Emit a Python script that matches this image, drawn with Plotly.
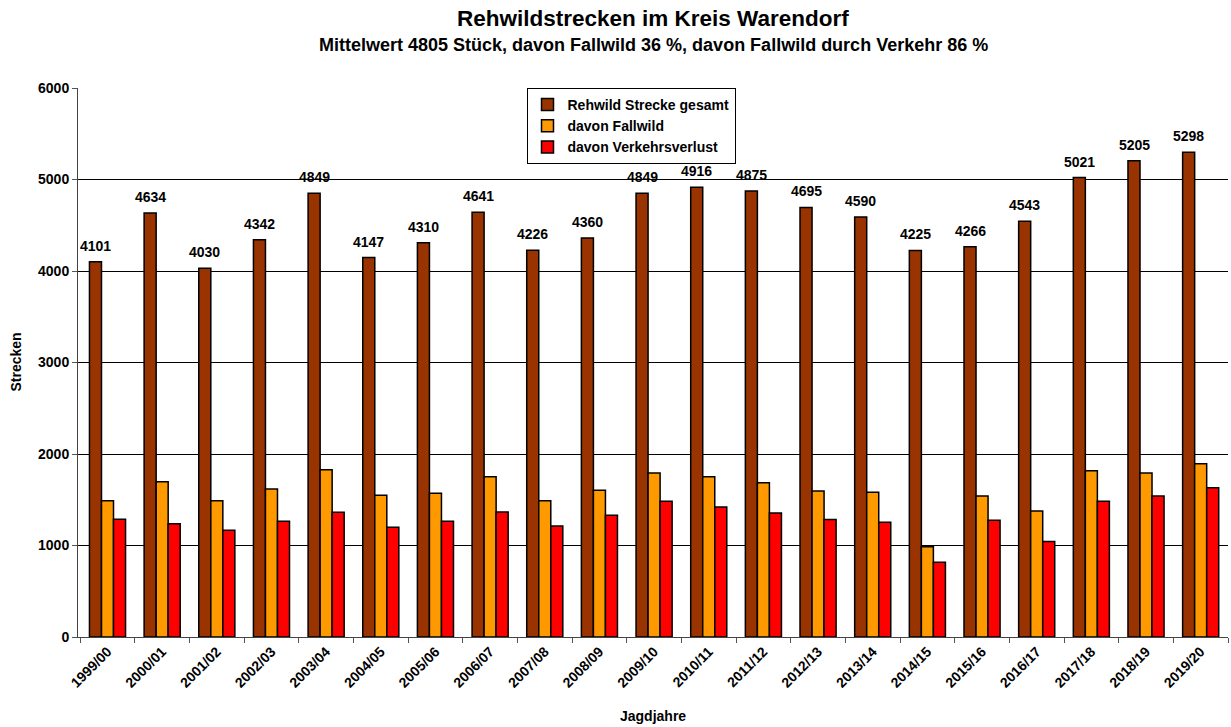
import plotly.graph_objects as go

years = ["1999/00", "2000/01", "2001/02", "2002/03", "2003/04", "2004/05", "2005/06",
         "2006/07", "2007/08", "2008/09", "2009/10", "2010/11", "2011/12", "2012/13",
         "2013/14", "2014/15", "2015/16", "2016/17", "2017/18", "2018/19", "2019/20"]
gesamt = [4101, 4634, 4030, 4342, 4849, 4147, 4310, 4641, 4226, 4360, 4849,
          4916, 4875, 4695, 4590, 4225, 4266, 4543, 5021, 5205, 5298]
fallwild = [1490, 1697, 1490, 1617, 1828, 1548, 1570, 1751, 1490, 1603, 1792,
            1751, 1686, 1595, 1581, 985, 1541, 1377, 1817, 1792, 1893]
verkehr = [1287, 1239, 1167, 1265, 1363, 1200, 1265, 1366, 1214, 1330, 1483,
           1421, 1355, 1283, 1254, 818, 1276, 1043, 1483, 1541, 1632]

FONT = "Liberation Sans, Arial, sans-serif"
BOLD14 = dict(family=FONT, size=14, color="black", weight="bold")

fig = go.Figure()
series = [("Rehwild Strecke gesamt", gesamt, "#993300"),
          ("davon Fallwild", fallwild, "#FF9900"),
          ("davon Verkehrsverlust", verkehr, "#FF0000")]
for i, (name, vals, col) in enumerate(series):
    fig.add_trace(go.Bar(x=years, y=vals, name=name, legendgroup=f"g{i}",
                         marker=dict(color=col, line=dict(color="black", width=1.5))))

# value labels above the "gesamt" bars (centred on the first bar of each group)
for yr, v in zip(years, gesamt):
    fig.add_annotation(x=yr, y=v, text=str(v), showarrow=False, yshift=16, xshift=-12,
                       xanchor="center", yanchor="middle", font=BOLD14)

fig.add_annotation(x=0.5, y=1, xref="paper", yref="paper", yshift=70, showarrow=False,
                   xanchor="center", yanchor="middle",
                   text="Rehwildstrecken im Kreis Warendorf",
                   font=dict(family=FONT, size=22.5, color="black", weight="bold"))
fig.add_annotation(x=0.5, y=1, xref="paper", yref="paper", yshift=43, showarrow=False,
                   xanchor="center", yanchor="middle",
                   text="Mittelwert 4805 Stück, davon Fallwild 36 %, davon Fallwild durch Verkehr 86 %",
                   font=dict(family=FONT, size=18, color="black", weight="bold"))
fig.add_annotation(x=0.5, y=0, xref="paper", yref="paper", yshift=-79, showarrow=False,
                   xanchor="center", yanchor="middle", text="Jagdjahre", font=BOLD14)
fig.add_annotation(x=0, y=0.5, xref="paper", yref="paper", xshift=-63, showarrow=False,
                   xanchor="center", yanchor="middle",
                   text="Strecken", textangle=-90, font=BOLD14)

fig.update_layout(
    width=1231, height=727,
    margin=dict(l=78, r=3, t=88, b=90),
    paper_bgcolor="white", plot_bgcolor="white",
    barmode="group", bargap=0.34, bargroupgap=0,
    font=dict(family=FONT, size=14, color="black"),
    legend=dict(x=0.39, y=1, xanchor="left", yanchor="top",
                bordercolor="black", borderwidth=1, bgcolor="white",
                font=BOLD14, tracegroupgap=0, itemwidth=30),
    showlegend=True,
)
fig.update_xaxes(type="category", tickangle=-45, ticks="outside", tickson="boundaries",
                 ticklen=5, tickcolor="#555", showline=True, linecolor="#444", linewidth=1,
                 tickfont=BOLD14, automargin=False)
fig.update_yaxes(range=[0, 6000], dtick=1000, showgrid=True, gridcolor="black", gridwidth=1,
                 ticks="outside", ticklen=5, tickcolor="#555", showline=True, linecolor="#444",
                 zeroline=False, tickfont=BOLD14, automargin=False)

fig.write_html("out.html", config={"displayModeBar": False},
               post_script="document.body.style.margin='0';")
